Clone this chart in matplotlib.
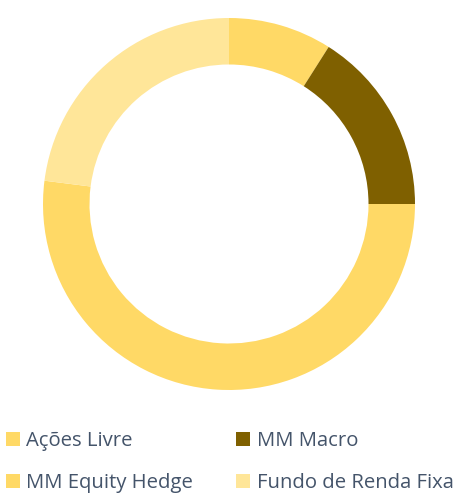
import matplotlib.pyplot as plt
from matplotlib.patches import Patch

labels = ["Ações Livre", "MM Macro", "MM Equity Hedge", "Fundo de Renda Fixa"]
values = [9, 16, 52, 23]
colors = ["#FFD966", "#7F6000", "#FFD966", "#FFE699"]

plt.rcParams["font.family"] = ["Open Sans", "DejaVu Sans"]

fig = plt.figure(figsize=(4.61, 4.98), dpi=100)
ax = fig.add_axes([43 / 461, 108 / 498, 372 / 461, 372 / 498])

ax.pie(values, colors=colors, startangle=90, counterclock=False,
       radius=1, wedgeprops=dict(width=0.25, edgecolor="none"))
ax.set_xlim(-1, 1)
ax.set_ylim(-1, 1)
ax.set_aspect("equal")
ax.axis("off")

# legend fills by column, so reorder to read row by row
order = [0, 2, 1, 3]
handles = [Patch(facecolor=colors[i], edgecolor="none") for i in order]
fig.legend(handles, [labels[i] for i in order], ncol=2, loc="upper left",
           bbox_to_anchor=(0.012, 0.135), frameon=False,
           fontsize=14.6, labelcolor="#44546A",
           handlelength=0.7, handleheight=0.7, handletextpad=0.3,
           columnspacing=2.15, labelspacing=1.12, borderpad=0, borderaxespad=0)

fig.savefig("out.png", dpi=100)
